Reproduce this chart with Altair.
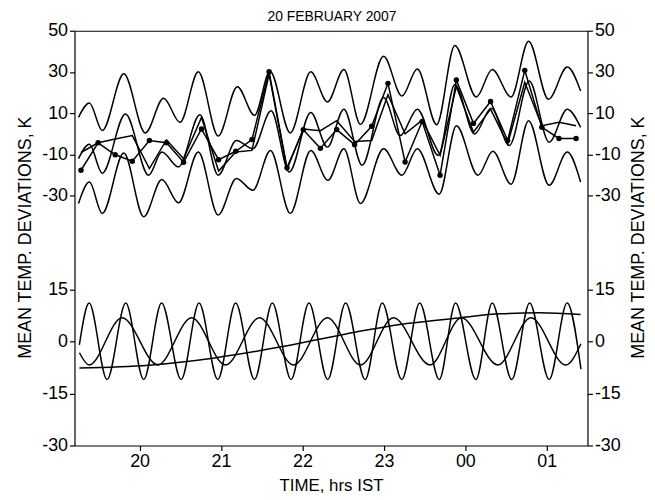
import altair as alt
import pandas as pd

# ---------------- data (x in hours IST; 24 = "00", 25 = "01") ----------------
# upper panel: upper envelope curve (extrema)
UPPER_T = [19.249, 19.383, 19.541, 19.806, 20.070, 20.294, 20.496, 20.721, 20.965, 21.200,
           21.411, 21.602, 21.850, 22.102, 22.306, 22.509, 22.712, 22.996, 23.221, 23.411,
           23.648, 23.871, 24.135, 24.330, 24.562, 24.777, 25.021, 25.252, 25.416]
UPPER_V = [8, 15, 1.6, 29.1, 0.5, 17.3, 5.6, 30.1, -1, 22.9,
           9, 30.4, 0.5, 30.1, 15.5, 31.2, 4.6, 37.6, 18.4, 31.5,
           4.5, 42.8, 17.9, 31.2, 17.9, 44.9, 16.8, 32.4, 20.8]
# lower envelope curve
LOWER_T = [19.249, 19.383, 19.541, 19.806, 20.050, 20.273, 20.477, 20.721, 20.965, 21.188,
           21.391, 21.607, 21.850, 22.102, 22.313, 22.509, 22.712, 22.996, 23.221, 23.411,
           23.679, 23.891, 24.155, 24.338, 24.562, 24.777, 25.029, 25.252, 25.416]
LOWER_V = [-33.7, -23.3, -38.5, -9.3, -40.1, -22.1, -33.4, -8.8, -39.3, -21.6,
           -27.3, -8, -38.5, -8, -22.5, -7.2, -33.7, -7.2, -20, -7.2,
           -29.2, 4, -20, -8.4, -24.4, 6.4, -24.9, -8.8, -23.3]
# smooth fitted curve in the middle
FIT_T = [19.249, 19.383, 19.541, 19.826, 20.111, 20.273, 20.477, 20.740, 20.965, 21.188,
         21.391, 21.615, 21.838, 22.102, 22.306, 22.509, 22.733, 22.996, 23.200, 23.411,
         23.667, 23.871, 24.115, 24.318, 24.541, 24.785, 25.029, 25.252, 25.416]
FIT_V = [-12, -5, -19, 9.6, -20, -8.8, -16, 9.3, -20, -3.2,
         -7.2, 11.2, -18.5, 10.4, -6.4, 12, -15.2, 17.6, -0.8, 12,
         -10.4, 24, 0, 12.5, -5.6, 25.6, -4, 12, 3.2]
# observed values (dots) and second jagged series
OBS_T = [19.28, 19.49, 19.70, 19.91, 20.12, 20.33, 20.54, 20.76, 20.97, 21.18,
         21.38, 21.59, 21.81, 22.01, 22.22, 22.42, 22.64, 22.85, 23.05, 23.26,
         23.47, 23.69, 23.89, 24.10, 24.31, 24.52, 24.73, 24.94, 25.15, 25.36]
OBS_V = [-17.6, -4.3, -10.1, -13.2, -3.2, -4.3, -13.7, 2.4, -12.5, -8.4,
         -2.7, 30.1, -16.4, 2.0, -7.0, 2.1, -5.2, 3.7, 24.5, -13.6,
         6.0, -20.0, 26.1, 5.1, 15.7, -3.2, 30.8, 3.2, -2.2, -2.2]
OBS2_V = [-9, -4.3, -2.5, -0.8, -16.8, -2.9, -12, 8, -18, -8.8,
          -8, 29, -17, 2.4, 1.6, 6.4, -3.7, -3.2, 19, 0,
          6.7, -10.4, 23, 0.8, 12, -4.8, 25, 4, 5.6, 4]

# lower panel: fast wave, medium wave, slow trend
FAST_T = [19.26, 19.38, 19.60, 19.83, 20.05, 20.27, 20.51, 20.73, 20.96, 21.18,
          21.41, 21.63, 21.86, 22.08, 22.31, 22.53, 22.77, 22.98, 23.22, 23.44,
          23.68, 23.88, 24.13, 24.33, 24.57, 24.79, 25.03, 25.25, 25.42]
FAST_V = [-1, 11, -11, 11, -11, 11, -11, 11, -11, 11,
          -11, 11, -11, 11, -11, 11, -11, 11, -11, 11,
          -11, 11, -11, 11, -11, 11, -11, 11, -8]
MED_T = [19.261, 19.379, 19.785, 20.224, 20.639, 21.054, 21.472, 21.891, 22.306, 22.712,
         23.118, 23.566, 23.952, 24.399, 24.806, 25.233, 25.420]
MED_V = [-3.3, -6.8, 6.8, -6.8, 6.8, -6.8, 6.8, -6.8, 6.8, -6.8,
         6.8, -6.8, 6.8, -6.8, 6.8, -6.8, -0.7]
SLOW_T = [19.261, 20.111, 20.920, 21.737, 22.550, 23.282, 23.952, 24.420, 24.907, 25.416]
SLOW_V = [-7.7, -6.9, -4.8, -1.6, 2.2, 5.1, 6.8, 7.9, 8.2, 7.7]

X_TICKS = [20, 21, 22, 23, 24, 25]
UP_TICKS = [50, 30, 10, -10, -30]
LO_TICKS = [15, 0, -15, -30]

TITLE = "20 FEBRUARY 2007"
YTITLE = "MEAN TEMP. DEVIATIONS, K"
XTITLE = "TIME, hrs IST"

# ---------------- chart ----------------
FONT = "Liberation Sans"
W, H = 517, 208
LW = 1.5

xs = alt.Scale(domain=[19.2, 25.5], nice=False, zero=False)
ys_up = alt.Scale(domain=[-50, 50], nice=False, zero=False)
ys_lo = alt.Scale(domain=[-30, 30], nice=False, zero=False)


def frame(t, v):
    return pd.DataFrame({"t": t, "v": v})


def yaxis(orient, vals, title):
    kw = dict(orient=orient, values=vals, tickSize=5, labelPadding=2,
              labelFontSize=18, grid=False, labelFlush=False, labelOverlap=False,
              labelExpr="'' + datum.value")
    if title:
        kw.update(title=title, titleY=H, titleAngle=270, titleBaseline="alphabetic",
                  titleAlign="center", titleFontSize=18, titleFontWeight="normal",
                  titleX=(-44 if orient == "left" else 56))
    else:
        kw.update(title=None)
    return alt.Axis(**kw)


top_axis = alt.Axis(orient="top", labels=False, ticks=False, title=None, domain=True, grid=False)
bottom_axis = alt.Axis(orient="bottom", values=X_TICKS,
                       labelExpr="datum.value >= 24 ? '0' + (datum.value - 24) : '' + datum.value",
                       tickSize=5, labelFontSize=18, labelPadding=2, labelFlush=False,
                       labelOverlap=False,
                       title=XTITLE, titleFontSize=17, titleFontWeight="normal",
                       titlePadding=7, grid=False)


def line(df, ys, xaxis, yax=None, interp="monotone"):
    return alt.Chart(df).mark_line(color="black", strokeWidth=LW, interpolate=interp).encode(
        x=alt.X("t:Q", scale=xs, axis=xaxis),
        y=alt.Y("v:Q", scale=ys, axis=yax),
    )


obs_df = pd.DataFrame({"t": OBS_T, "v": OBS_V})
upper = alt.layer(
    line(frame(UPPER_T, UPPER_V), ys_up, top_axis, yax=yaxis("left", UP_TICKS, YTITLE)),
    line(frame(LOWER_T, LOWER_V), ys_up, top_axis, yax=yaxis("right", UP_TICKS, YTITLE)),
    line(frame(FIT_T, FIT_V), ys_up, top_axis),
    line(frame(OBS_T, OBS2_V), ys_up, top_axis, interp="linear"),
    line(obs_df, ys_up, top_axis, interp="linear"),
    alt.Chart(obs_df).mark_circle(color="black", size=30, opacity=1).encode(
        x=alt.X("t:Q", scale=xs, axis=top_axis),
        y=alt.Y("v:Q", scale=ys_up, axis=None),
    ),
).resolve_axis(y="independent").properties(width=W, height=H)

lower = alt.layer(
    line(frame(FAST_T, FAST_V), ys_lo, bottom_axis, yax=yaxis("left", LO_TICKS, None)),
    line(frame(MED_T, MED_V), ys_lo, bottom_axis, yax=yaxis("right", LO_TICKS, None)),
    line(frame(SLOW_T, SLOW_V), ys_lo, bottom_axis),
).resolve_axis(y="independent").properties(width=W, height=H + 2)

chart = alt.vconcat(upper, lower, spacing=0, bounds="flush").properties(
    title=alt.TitleParams(TITLE, fontSize=14, fontWeight="normal", anchor="middle", offset=-2),
    padding={"left": 8, "right": 0, "top": 0, "bottom": 0},
    background="white",
).configure_view(stroke=None).configure_axis(
    domainColor="black", tickColor="black", labelColor="black", titleColor="black",
    labelFont=FONT, titleFont=FONT, domainWidth=1.2, tickWidth=1.2,
).configure_title(font=FONT, color="black")

chart.save("out.html", embed_options={"renderer": "svg", "actions": False})
